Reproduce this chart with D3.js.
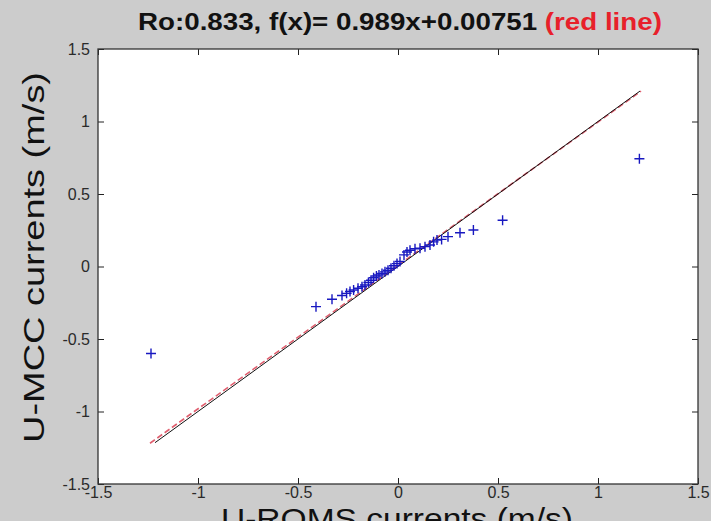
<!DOCTYPE html>
<html><head><meta charset="utf-8">
<script src="https://cdn.jsdelivr.net/npm/d3@7"></script>
<style>
html,body{margin:0;padding:0;background:#cccccc;}
svg{display:block;}
</style></head>
<body>
<script>
// ---- data ----
const romsU = [-1.235, -0.41, -0.33, -0.28, -0.257, -0.24, -0.222, -0.2, -0.18, -0.165, -0.148, -0.135, -0.122, -0.108, -0.095, -0.08, -0.065, -0.05, -0.035, -0.02, -0.005, 0.01, 0.03, 0.045, 0.06, 0.085, 0.11, 0.135, 0.16, 0.178, 0.195, 0.218, 0.25, 0.31, 0.377, 0.523, 1.207];
const mccU  = [-0.60, -0.277, -0.226, -0.2, -0.185, -0.172, -0.162, -0.15, -0.14, -0.128, -0.11, -0.095, -0.078, -0.066, -0.058, -0.048, -0.037, -0.026, -0.012, 0.005, 0.02, 0.035, 0.08, 0.1, 0.112, 0.122, 0.126, 0.137, 0.148, 0.17, 0.182, 0.187, 0.206, 0.233, 0.252, 0.319, 0.743];
const fitSlope = 0.989, fitIntercept = 0.00751;
const fitRange = [-1.24, 1.215];
const oneToOneRange = [-1.215, 1.21];
const tickValues = [-1.5, -1, -0.5, 0, 0.5, 1, 1.5];
const tickLabels = ["-1.5", "-1", "-0.5", "0", "0.5", "1", "1.5"];
const titleMain = "Ro:0.833, f(x)= 0.989x+0.00751 ";
const titleRed = "(red line)";
const xLabel = "U-ROMS currents (m/s)";
const yLabel = "U-MCC currents (m/s)";

// ---- layout ----
const W = 711, H = 521;
const L = 98, R = 698, T = 49, B = 484;
const FONT = "'Liberation Sans', Arial, Helvetica, sans-serif";

const svg = d3.select("body").append("svg").attr("width", W).attr("height", H);
svg.append("rect").attr("width", W).attr("height", H).attr("fill", "#cccccc");

const x = d3.scaleLinear().domain([-1.5, 1.5]).range([L, R]);
const y = d3.scaleLinear().domain([-1.5, 1.5]).range([B, T]);

svg.append("rect").attr("x", L).attr("y", T).attr("width", R - L).attr("height", B - T)
  .attr("fill", "#ffffff");

const fmt = (d) => tickLabels[tickValues.indexOf(d)];

function styleAxis(g, labels) {
  g.select(".domain").remove();
  g.selectAll(".tick line").attr("stroke", "#222").attr("stroke-width", 1);
  g.selectAll(".tick text").attr("fill", "#2a2a2a").style("font-family", FONT).style("font-size", "16px");
  if (!labels) g.selectAll(".tick text").remove();
}

svg.append("g").attr("transform", `translate(0,${B})`)
  .call(d3.axisBottom(x).tickValues(tickValues).tickFormat(fmt).tickSize(-6).tickPadding(3))
  .call(g => styleAxis(g, true));
svg.append("g").attr("transform", `translate(0,${T})`)
  .call(d3.axisTop(x).tickValues(tickValues).tickSize(-6))
  .call(g => styleAxis(g, false));
svg.append("g").attr("transform", `translate(${L},0)`)
  .call(d3.axisLeft(y).tickValues(tickValues).tickFormat(fmt).tickSize(-6).tickPadding(8))
  .call(g => styleAxis(g, true));
svg.append("g").attr("transform", `translate(${R},0)`)
  .call(d3.axisRight(y).tickValues(tickValues).tickSize(-6))
  .call(g => styleAxis(g, false));

// frame
svg.append("rect").attr("x", L).attr("y", T).attr("width", R - L).attr("height", B - T)
  .attr("fill", "none").attr("stroke", "#333").attr("stroke-width", 1.3);

// fit line (red dashed) and 1:1 line (black)
const line = d3.line().x(d => x(d[0])).y(d => y(d[1]));
svg.append("path")
  .attr("d", line(fitRange.map(v => [v, fitSlope * v + fitIntercept])))
  .attr("stroke", "#e06070").attr("stroke-width", 1.6).attr("fill", "none")
  .attr("stroke-dasharray", "6,3");
svg.append("path")
  .attr("d", line(oneToOneRange.map(v => [v, v])))
  .attr("stroke", "#111").attr("stroke-width", 1).attr("fill", "none");

// points (+ markers)
const pts = romsU.map((v, i) => [v, mccU[i]]);
const s = 5;
const pg = svg.append("g").attr("stroke", "#1818c0").attr("stroke-width", 1.4);
pg.selectAll("path").data(pts).join("path")
  .attr("d", d => {
    const cx = x(d[0]), cy = y(d[1]);
    return `M${cx - s},${cy}H${cx + s}M${cx},${cy - s}V${cy + s}`;
  });

// title
const title = svg.append("text").attr("x", (L + R) / 2 + 2).attr("y", 30)
  .attr("text-anchor", "middle").style("font-family", FONT).style("font-size", "24px")
  .style("font-weight", "bold").attr("fill", "#111");
title.append("tspan").text(titleMain);
title.append("tspan").attr("fill", "#e8202a").text(titleRed);
{
  const bb = title.node().getBBox();
  const sx = 524 / bb.width;
  const cx = (138 + 662) / 2;
  title.attr("x", cx).attr("transform", `translate(${cx},0) scale(${sx},1) translate(${-cx},0)`);
}

// axis labels
svg.append("text").attr("x", 397).attr("y", 529)
  .attr("text-anchor", "middle").style("font-family", FONT).style("font-size", "29px")
  .attr("fill", "#111").attr("textLength", 352).attr("lengthAdjust", "spacingAndGlyphs")
  .text(xLabel);
svg.append("text").attr("transform", `translate(44,${(72 + 443) / 2}) rotate(-90)`)
  .attr("text-anchor", "middle").style("font-family", FONT).style("font-size", "29px")
  .attr("fill", "#111").attr("textLength", 371).attr("lengthAdjust", "spacingAndGlyphs")
  .text(yLabel);
</script>
</body></html>
